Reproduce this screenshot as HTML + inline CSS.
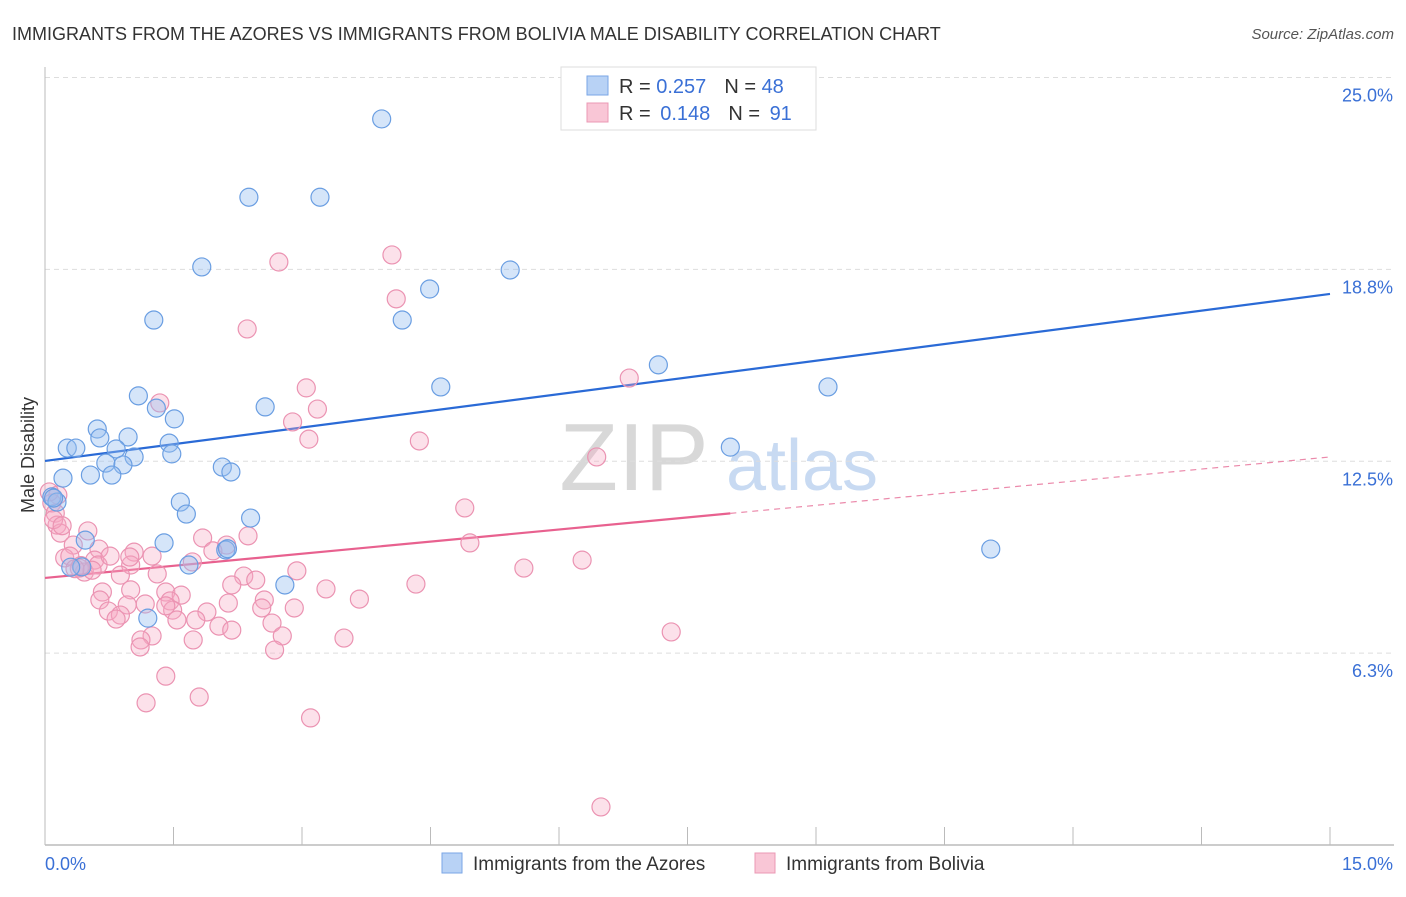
<!DOCTYPE html>
<html><head><meta charset="utf-8"><style>
body{margin:0;background:#fff;font-family:"Liberation Sans",sans-serif;}
svg text{font-family:"Liberation Sans",sans-serif;}
</style></head><body>
<svg width="1406" height="892" viewBox="0 0 1406 892">
<text x="12" y="40" font-size="18" fill="#333">IMMIGRANTS FROM THE AZORES VS IMMIGRANTS FROM BOLIVIA MALE DISABILITY CORRELATION CHART</text>
<text x="1394" y="39" font-size="15" fill="#555" font-style="italic" text-anchor="end">Source: ZipAtlas.com</text>
<g>
<text x="634" y="490" font-size="96" fill="#d8d8d8" font-family="Liberation Serif" text-anchor="middle">ZIP</text>
<text x="802" y="490" font-size="72" fill="#c8daf2" text-anchor="middle">atlas</text>
</g>
<g id="grid"></g>
<g id="axes"></g>
<g id="lines"></g>
<g id="pts"></g>
<text transform="translate(34,455) rotate(-90)" font-size="18" fill="#333" text-anchor="middle">Male Disability</text>
<g>
<rect x="561" y="67" width="255" height="63" fill="#fff" stroke="#ddd"/>
<rect x="587" y="76" width="21" height="19" fill="#b8d2f5" stroke="#7aa6e6"/>
<rect x="587" y="103" width="21" height="19" fill="#f9c6d6" stroke="#eb98b4"/>
<text x="619" y="93" font-size="20" fill="#333">R = <tspan fill="#3a70d6">0.257</tspan><tspan dx="18">N = </tspan><tspan fill="#3a70d6">48</tspan></text>
<text x="619" y="120" font-size="20" fill="#333">R = <tspan fill="#3a70d6" dx="4">0.148</tspan><tspan dx="18">N = </tspan><tspan fill="#3a70d6" dx="4">91</tspan></text>
</g>
<g>
<rect x="442" y="853" width="20" height="20" fill="#b8d2f5" stroke="#7aa6e6"/>
<text x="473" y="870" font-size="19" fill="#333">Immigrants from the Azores</text>
<rect x="755" y="853" width="20" height="20" fill="#f9c6d6" stroke="#eb98b4"/>
<text x="786" y="870" font-size="19" fill="#333">Immigrants from Bolivia</text>
</g>
</svg>
<script>
const yTicks=[6.25,12.5,18.75,25];
const yTickLabels=["6.3%","12.5%","18.8%","25.0%"];
const xTickCount=10;
const xLabels=["0.0%","15.0%"];
const azoresX=[3.93,2.38,3.21,1.83,5.43,4.49,4.17,1.27,7.16,9.14,4.62,1.09,1.30,2.57,1.51,0.61,0.97,0.64,1.45,0.26,0.36,0.83,1.04,1.48,0.71,0.91,2.07,2.17,0.53,0.21,0.78,8.0,0.08,0.14,1.58,1.65,2.40,1.39,0.47,2.11,11.04,1.68,2.80,1.20,0.43,0.10,2.13,0.30];
const azoresY=[23.65,21.1,21.1,18.83,18.73,18.11,17.1,17.1,15.64,14.92,14.92,14.63,14.23,14.27,13.88,13.55,13.29,13.26,13.09,12.93,12.93,12.9,12.64,12.74,12.44,12.38,12.31,12.15,12.05,11.95,12.05,12.96,11.34,11.17,11.17,10.78,10.65,9.84,9.93,9.61,9.64,9.12,8.47,7.39,9.06,11.3,9.65,9.05];
const boliviaX=[4.05,2.73,4.10,2.36,6.82,3.05,1.34,3.18,2.89,3.08,4.37,6.44,4.90,0.15,0.08,0.12,0.14,0.18,0.50,4.96,2.37,1.84,2.12,1.96,0.33,0.63,0.58,1.04,1.25,1.00,1.72,0.23,0.29,0.40,0.46,0.62,0.88,1.31,5.59,6.27,2.32,2.46,2.94,4.33,2.18,3.28,0.67,1.00,1.41,1.59,3.67,0.64,0.96,1.17,1.46,2.56,2.14,1.49,1.89,0.74,1.41,2.91,0.88,0.83,1.54,1.76,2.53,2.03,2.65,2.18,1.25,2.77,1.12,3.49,7.31,1.73,1.11,2.68,1.41,1.80,1.18,3.10,6.49,0.99,0.76,0.05,0.10,0.20,0.35,0.55,0.42];
const boliviaY=[19.22,18.99,17.79,16.81,15.21,14.89,14.40,14.20,13.78,13.22,13.16,12.64,10.98,11.40,11.14,10.81,10.42,10.16,10.23,9.84,10.07,10.0,9.77,9.58,9.77,9.64,9.28,9.54,9.41,9.12,9.22,9.35,9.41,9.02,8.89,9.12,8.79,8.83,9.02,9.28,8.76,8.63,8.93,8.50,8.47,8.34,8.24,8.31,8.24,8.14,8.01,7.98,7.82,7.85,7.95,7.98,7.88,7.65,7.59,7.62,7.79,7.72,7.49,7.36,7.33,7.33,7.72,7.13,7.23,7.00,6.81,6.81,6.68,6.74,6.94,6.68,6.45,6.35,5.50,4.82,4.63,4.14,1.24,9.38,9.41,11.5,10.6,10.4,9.0,8.95,9.1];
const azoresTrend=[12.51,17.95];
const boliviaTrend=[8.70,12.64];
const boliviaSolidEnd=8.0;
const X=v=>45+v*(1285/15);
const Y=v=>845-v*30.7;
const NS="http://www.w3.org/2000/svg";
function mk(tag,attrs,parent){const e=document.createElementNS(NS,tag);for(const k in attrs)e.setAttribute(k,attrs[k]);document.getElementById(parent).appendChild(e);return e;}
yTicks.forEach((t,i)=>{
 const l=mk('line',{x1:45,x2:1394,y1:Y(t),y2:Y(t),stroke:'#ddd','stroke-dasharray':'5,4'},'grid');
 
 
 const tx=mk('text',{x:1393,y:Y(t)+24,'font-size':18,fill:'#3a70d6','text-anchor':'end'},'grid');
 tx.textContent=yTickLabels[i];
 
 
});
const ya=mk('line',{x1:45,x2:45,y1:67,y2:845,stroke:'#bbb'},'axes');


const xa=mk('line',{x1:45,x2:1394,y1:845,y2:845,stroke:'#bbb','stroke-width':1.5},'axes');


for(let i=1;i<=xTickCount;i++){
 const t=mk('line',{x1:X(i*1.5),x2:X(i*1.5),y1:827,y2:845,stroke:'#bbb'},'axes');
 
 
}
[[0,'start',45],[15,'end',1393]].forEach((a,i)=>{
 const t=mk('text',{x:a[2],y:870,'font-size':18,fill:'#3a70d6','text-anchor':a[1]},'axes');
 t.textContent=xLabels[i];
 
 
});
function dot(x,y,f,s,n){const c=mk('circle',{cx:X(x),cy:Y(y),r:9,fill:f,stroke:s,'stroke-width':1.2},'pts');
 
 }
boliviaX.forEach((x,i)=>dot(x,boliviaY[i],'rgba(247,170,196,0.35)','#eb93b2','bolivia-point'));
azoresX.forEach((x,i)=>dot(x,azoresY[i],'rgba(150,190,240,0.4)','#6a9ee2','azores-point'));
const bl=mk('line',{x1:X(0),y1:Y(azoresTrend[0]),x2:X(15),y2:Y(azoresTrend[1]),stroke:'#2a6ad6','stroke-width':2.2},'lines');


const pm=v=>boliviaTrend[0]+(boliviaTrend[1]-boliviaTrend[0])*v/15;
const pl=mk('line',{x1:X(0),y1:Y(pm(0)),x2:X(boliviaSolidEnd),y2:Y(pm(boliviaSolidEnd)),stroke:'#e8618f','stroke-width':2.2},'lines');


const pd=mk('line',{x1:X(boliviaSolidEnd),y1:Y(pm(boliviaSolidEnd)),x2:X(15),y2:Y(pm(15)),stroke:'#eb8aab','stroke-width':1.2,'stroke-dasharray':'6,5'},'lines');


</script>
</body></html>
